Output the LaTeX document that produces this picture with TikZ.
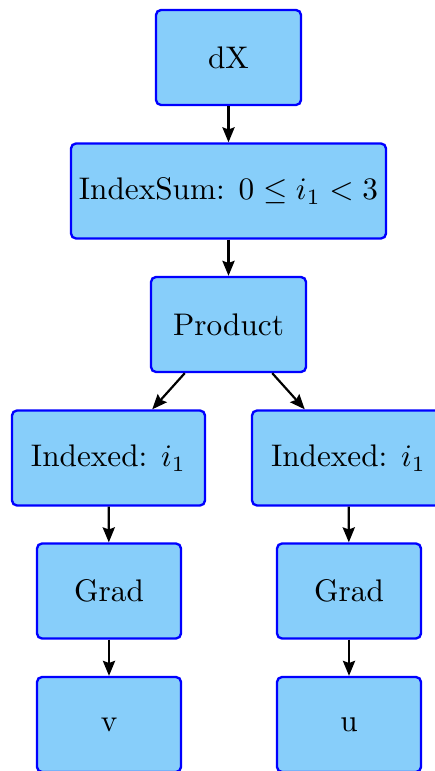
\documentclass[tikz,border=0pt]{standalone}
\usetikzlibrary{arrows.meta}
\definecolor{boxfill}{RGB}{135,206,250}
\newcommand{\pu}{0.32pt}
\begin{document}
\begin{tikzpicture}[x=0.32pt,y=-0.32pt,
  exprbox/.style={draw=blue, fill=boxfill, line width=0.75pt, rounded corners=1.6pt,
    inner sep=0pt, minimum height={95*\pu}, align=center},
  link/.style={draw=black, line width=0.7pt, -{Stealth[length=4.8pt,width=3.9pt,inset=0.7pt]}}]
  \useasboundingbox (0,0) rectangle (435,771);
  \begin{scope}
    \clip (0,0) rectangle (435,771);
    \node[exprbox, minimum width={145*\pu}] (dx) at (228.5,57.5) {dX};
    \node[exprbox, minimum width={315*\pu}] (isum) at (228.5,191) {IndexSum: $0 \leq i_1 < 3$};
    \node[exprbox, minimum width={155*\pu}] (prod) at (228.5,324.5) {Product};
    \node[exprbox, minimum width={193*\pu}] (idxl) at (108.5,458) {Indexed: $i_1$};
    \node[exprbox, minimum width={193*\pu}] (idxr) at (348.5,458) {Indexed: $i_1$};
    \node[exprbox, minimum width={144*\pu}] (gradl) at (109,591) {Grad};
    \node[exprbox, minimum width={144*\pu}] (gradr) at (349,591) {Grad};
    \node[exprbox, minimum width={144*\pu}] (v) at (109,724.5) {v};
    \node[exprbox, minimum width={144*\pu}] (u) at (349,724.5) {u};
    \draw[link] (dx) -- (isum);
    \draw[link] (isum) -- (prod);
    \draw[link] (prod) -- (idxl);
    \draw[link] (prod) -- (idxr);
    \draw[link] (idxl) -- (gradl);
    \draw[link] (idxr) -- (gradr);
    \draw[link] (gradl) -- (v);
    \draw[link] (gradr) -- (u);
  \end{scope}
\end{tikzpicture}
\end{document}
